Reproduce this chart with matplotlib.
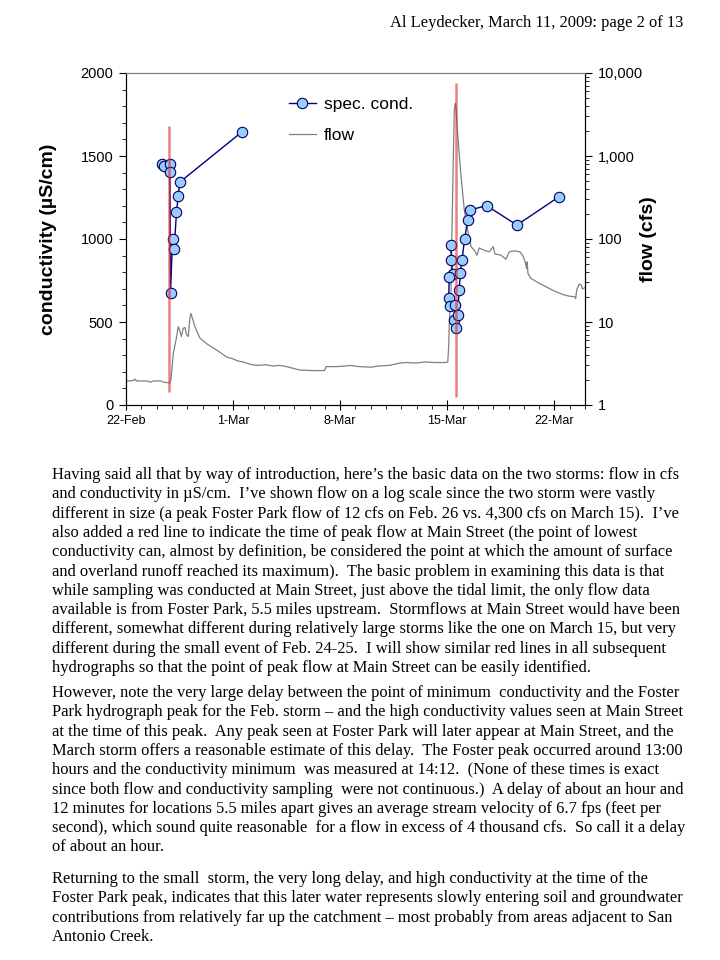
import matplotlib
matplotlib.use("Agg")
import matplotlib.pyplot as plt
from matplotlib.ticker import MultipleLocator, FixedLocator, FuncFormatter, LogLocator, NullFormatter

# 数据（横轴：自 2009-02-22 00:00 起的天数）
day_ticks = [0, 7, 14, 21, 28]
day_labels = ['22-Feb', '1-Mar', '8-Mar', '15-Mar', '22-Mar']

# 电导率 (µS/cm)，两场暴雨
cond1_days = [2.37, 2.48, 2.85, 2.87, 2.91, 3.04, 3.15, 3.30, 3.41, 3.52, 7.55]
cond1_vals = [1450, 1440, 1454, 1402, 677, 998, 942, 1160, 1259, 1343, 1643]
cond2_days = [21.22, 21.27, 21.35, 21.13, 21.09, 21.18, 21.48, 21.46, 21.57, 21.67,
              21.78, 21.85, 21.96, 22.13, 22.33, 22.48, 23.57, 25.55, 28.31]
cond2_vals = [964, 873, 787, 773, 646, 596, 602, 512, 466, 542,
              693, 793, 873, 998, 1114, 1175, 1201, 1084, 1255]

# Foster Park 流量 (cfs)
flow_days = [0.0, 0.3, 0.55, 0.6, 0.7, 1.2, 1.5, 1.6, 1.8, 2.3, 2.45, 2.85, 2.94,
             3.09, 3.30, 3.41, 3.52, 3.62, 3.74, 3.85, 3.96, 4.07, 4.16, 4.24, 4.35,
             4.5, 4.83, 5.26, 5.6, 5.92, 6.57, 6.98, 7.3, 7.65, 8.1, 8.52, 9.17, 9.6,
             10.04, 10.5, 10.91, 11.35, 12.2, 12.98, 13.08, 13.7, 14.4, 14.6, 15.26,
             16.0, 16.5, 17.2, 17.9, 18.3, 19.0, 19.5, 20.2, 20.9, 21.03, 21.09, 21.13,
             21.24, 21.31, 21.39, 21.46, 21.52, 21.57, 21.63, 21.74, 21.9, 22.11,
             22.33, 22.55, 22.77, 22.94, 23.09, 23.42, 23.74, 24.0, 24.11, 24.5,
             24.83, 25.05, 25.37, 25.74, 25.92, 26.09, 26.18, 26.22, 26.27, 26.46,
             27.0, 27.44, 27.87, 28.53, 28.96, 29.33, 29.39, 29.46, 29.61, 29.75,
             29.83, 30.0]
flow_cfs = [1.95, 1.95, 2.0, 2.05, 1.95, 1.95, 1.93, 1.88, 1.95, 1.95, 1.88, 1.85, 2.0,
            4.2, 6.5, 8.8, 7.8, 6.7, 8.4, 8.6, 7.0, 6.7, 10.5, 12.7, 11.0,
            8.8, 6.4, 5.5, 5.0, 4.6, 3.8, 3.6, 3.4, 3.3, 3.1, 3.0, 3.05, 2.95,
            3.0, 2.9, 2.77, 2.64, 2.6, 2.6, 2.9, 2.9, 2.95, 3.0, 2.9,
            2.85, 2.95, 3.0, 3.2, 3.25, 3.2, 3.3, 3.25, 3.25, 3.3, 5.0, 9.6,
            22, 141, 895, 3560, 4300, 3900, 2470, 1290, 565, 224,
            128, 81, 73, 64, 78, 73, 70, 81, 66, 64,
            57, 70, 72, 70, 64, 53, 44, 53, 38.6, 33.6,
            29.3, 26.7, 24.2, 21.5, 20.5, 20.1, 19.2, 24.2, 28.6, 28,
            25, 26]

# 红线：Main Street 峰值流量时刻
red_days = [2.83, 21.55]
red_low = [80, 48]
red_high = [1680, 1942]

header = 'Al Leydecker, March 11, 2009: page 2 of 13'
paragraphs = [
    ["Having said all that by way of introduction, here’s the basic data on the two storms: flow in cfs",
     "and conductivity in µS/cm.  I’ve shown flow on a log scale since the two storm were vastly",
     "different in size (a peak Foster Park flow of 12 cfs on Feb. 26 vs. 4,300 cfs on March 15).  I’ve",
     "also added a red line to indicate the time of peak flow at Main Street (the point of lowest",
     "conductivity can, almost by definition, be considered the point at which the amount of surface",
     "and overland runoff reached its maximum).  The basic problem in examining this data is that",
     "while sampling was conducted at Main Street, just above the tidal limit, the only flow data",
     "available is from Foster Park, 5.5 miles upstream.  Stormflows at Main Street would have been",
     "different, somewhat different during relatively large storms like the one on March 15, but very",
     "different during the small event of Feb. 24-25.  I will show similar red lines in all subsequent",
     "hydrographs so that the point of peak flow at Main Street can be easily identified."],
    ["However, note the very large delay between the point of minimum  conductivity and the Foster",
     "Park hydrograph peak for the Feb. storm – and the high conductivity values seen at Main Street",
     "at the time of this peak.  Any peak seen at Foster Park will later appear at Main Street, and the",
     "March storm offers a reasonable estimate of this delay.  The Foster peak occurred around 13:00",
     "hours and the conductivity minimum  was measured at 14:12.  (None of these times is exact",
     "since both flow and conductivity sampling  were not continuous.)  A delay of about an hour and",
     "12 minutes for locations 5.5 miles apart gives an average stream velocity of 6.7 fps (feet per",
     "second), which sound quite reasonable  for a flow in excess of 4 thousand cfs.  So call it a delay",
     "of about an hour."],
    ["Returning to the small  storm, the very long delay, and high conductivity at the time of the",
     "Foster Park peak, indicates that this later water represents slowly entering soil and groundwater",
     "contributions from relatively far up the catchment – most probably from areas adjacent to San",
     "Antonio Creek."],
]

W, H = 720, 960
sans = 'Liberation Sans'
serif = 'Liberation Serif'

fig = plt.figure(figsize=(W / 100, H / 100), dpi=100)
ax = fig.add_axes([126 / W, 1 - 405 / H, 459 / W, 332 / H])
ax2 = ax.twinx()

# 流量（右轴，对数）
flow_line, = ax2.plot(flow_days, flow_cfs, color='#808080', lw=0.9, label='flow')
ax2.set_yscale('log')
ax2.set_ylim(1, 10000)
ax2.yaxis.set_major_locator(FixedLocator([1, 10, 100, 1000, 10000]))
ax2.yaxis.set_major_formatter(FuncFormatter(lambda v, p: f'{v:,.0f}'))
ax2.yaxis.set_minor_locator(LogLocator(base=10, subs=range(2, 10)))
ax2.yaxis.set_minor_formatter(NullFormatter())
ax2.tick_params(axis='y', which='major', direction='out', length=5, width=0.8,
                labelsize=10.5, pad=4)
ax2.tick_params(axis='y', which='minor', direction='out', length=3, width=0.6)
ax2.set_ylabel('flow (cfs)', family=sans, fontsize=14, fontweight='bold')
ax2.yaxis.set_label_coords((640 - 126) / 459, 0.5)

# 电导率放在上层
ax.set_zorder(ax2.get_zorder() + 1)
ax.patch.set_visible(False)
mk = dict(marker='o', ms=7.5, mfc='#99ccff', mec='#000060', mew=0.8,
          color='#000080', lw=1.0)
cond_line, = ax.plot(cond1_days, cond1_vals, label='spec. cond.', **mk)
ax.plot(cond2_days, cond2_vals, **mk)
ax.vlines(red_days, red_low, red_high, colors='#e02828', lw=1.8, alpha=0.6, zorder=5)

ax.set_xlim(0, 30)
ax.set_ylim(0, 2000)
ax.xaxis.set_major_locator(FixedLocator(day_ticks))
ax.set_xticklabels(day_labels)
ax.xaxis.set_minor_locator(MultipleLocator(1))
ax.yaxis.set_major_locator(MultipleLocator(500))
ax.yaxis.set_minor_locator(MultipleLocator(100))
ax.tick_params(axis='x', which='major', direction='inout', length=7, width=0.8,
               labelsize=9, pad=4)
ax.tick_params(axis='x', which='minor', direction='out', length=3, width=0.6)
ax.tick_params(axis='y', which='major', direction='out', length=5, width=0.8,
               labelsize=10.5, pad=4)
ax.tick_params(axis='y', which='minor', direction='out', length=3, width=0.6)
ax.set_ylabel('conductivity (µS/cm)', family=sans, fontsize=14, fontweight='bold')
ax.yaxis.set_label_coords((57 - 126) / 459, 0.5)
for a in (ax, ax2):
    for lab in a.get_xticklabels() + a.get_yticklabels():
        lab.set_family(sans)
    a.spines['top'].set_color('#808080')

ax.legend([cond_line, flow_line], ['spec. cond.', 'flow'], loc='upper left',
          bbox_to_anchor=(0.32, 0.975), frameon=False,
          prop={'family': sans, 'size': 12.5}, handlelength=1.6,
          handletextpad=0.45, labelspacing=0.92)

# 页眉与正文
fig.text(683 / W, 1 - 27 / H, header, ha='right', va='baseline',
         family=serif, fontsize=11.9)
starts = [479, 697, 883]
step = 19.3
for para, y0 in zip(paragraphs, starts):
    for i, line in enumerate(para):
        fig.text(52 / W, 1 - (y0 + i * step) / H, line, ha='left', va='baseline',
                 family=serif, fontsize=11.9)

fig.savefig('out.png', dpi=100)
